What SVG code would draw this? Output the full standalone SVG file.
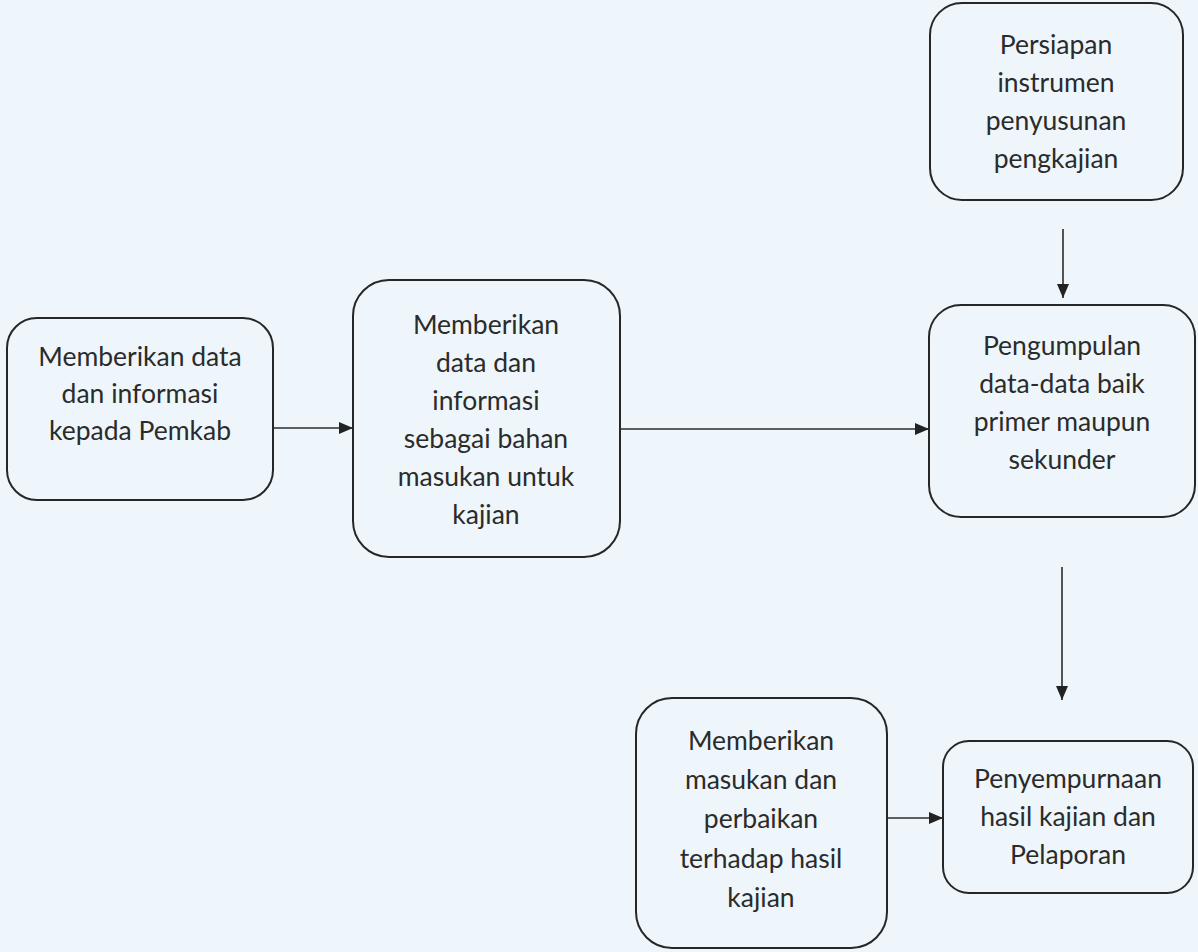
<svg xmlns="http://www.w3.org/2000/svg" width="1198" height="952" viewBox="0 0 1198 952">
  <style>
    .box { fill: none; stroke: #262626; stroke-width: 2; }
    .lbl { font-family: Lato, "Open Sans", sans-serif; font-size: 26.5px; fill: #2b2b2b; text-anchor: middle; }
    .link { stroke: #2b2b2b; stroke-width: 1.6; fill: none; marker-end: url(#arrow); }
  </style>
  <defs>
    <marker id="arrow" markerWidth="14" markerHeight="12" refX="14" refY="6" orient="auto" markerUnits="userSpaceOnUse">
      <path d="M0,0 L14,6 L0,12 Z" fill="#222"/>
    </marker>
  </defs>
  <rect width="1198" height="952" fill="#eef6fb"/>

  <g id="node-pemkab">
    <rect class="box" x="7" y="318" width="266" height="182" rx="30"/>
    <text class="lbl" x="140"><tspan y="366">Memberikan data</tspan><tspan x="140" y="403">dan informasi</tspan><tspan x="140" y="440">kepada Pemkab</tspan></text>
  </g>

  <g id="node-bahan">
    <rect class="box" x="353" y="280" width="267" height="277" rx="36"/>
    <text class="lbl" x="486"><tspan y="334">Memberikan</tspan><tspan x="486" y="372">data dan</tspan><tspan x="486" y="410">informasi</tspan><tspan x="486" y="448">sebagai bahan</tspan><tspan x="486" y="486">masukan untuk</tspan><tspan x="486" y="524">kajian</tspan></text>
  </g>

  <g id="node-persiapan">
    <rect class="box" x="930" y="3" width="253" height="197" rx="32"/>
    <text class="lbl" x="1056"><tspan y="54">Persiapan</tspan><tspan x="1056" y="92">instrumen</tspan><tspan x="1056" y="130">penyusunan</tspan><tspan x="1056" y="168">pengkajian</tspan></text>
  </g>

  <g id="node-pengumpulan">
    <rect class="box" x="929" y="305" width="266" height="212" rx="32"/>
    <text class="lbl" x="1062"><tspan y="355">Pengumpulan</tspan><tspan x="1062" y="393">data-data baik</tspan><tspan x="1062" y="431">primer maupun</tspan><tspan x="1062" y="469">sekunder</tspan></text>
  </g>

  <g id="node-masukan">
    <rect class="box" x="636" y="698" width="251" height="250" rx="36"/>
    <text class="lbl" x="761"><tspan y="750">Memberikan</tspan><tspan x="761" y="789">masukan dan</tspan><tspan x="761" y="828">perbaikan</tspan><tspan x="761" y="868">terhadap hasil</tspan><tspan x="761" y="907">kajian</tspan></text>
  </g>

  <g id="node-penyempurnaan">
    <rect class="box" x="943" y="741" width="250" height="152" rx="26"/>
    <text class="lbl" x="1068"><tspan y="788">Penyempurnaan</tspan><tspan x="1068" y="826">hasil kajian dan</tspan><tspan x="1068" y="864">Pelaporan</tspan></text>
  </g>

  <g id="connectors">
    <line class="link" x1="273" y1="428" x2="353" y2="428"/>
    <line class="link" x1="620" y1="429" x2="929" y2="429"/>
    <line class="link" x1="1063" y1="229" x2="1063" y2="298"/>
    <line class="link" x1="1062" y1="567" x2="1062" y2="700"/>
    <line class="link" x1="887" y1="818" x2="943" y2="818"/>
  </g>
</svg>
